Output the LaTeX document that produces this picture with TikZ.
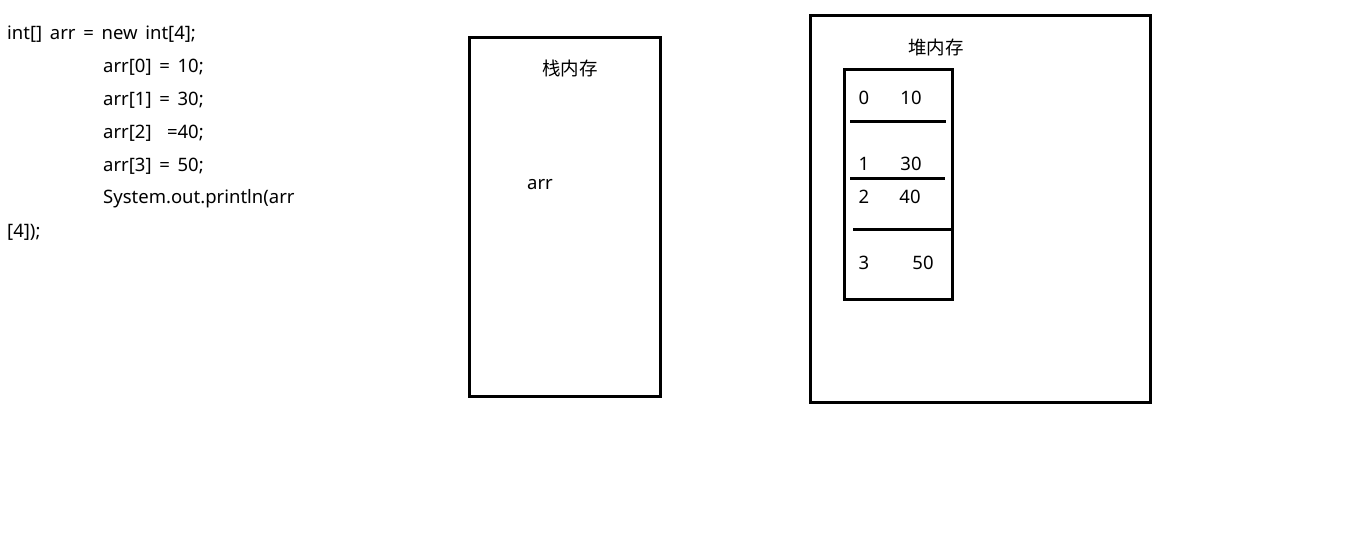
\documentclass[tikz,border=0pt]{standalone}
\usepackage{fontspec}
\setmainfont{Noto Sans}[WordSpace=1.6]
\newfontfamily\cjk{Noto Sans CJK SC}
\begin{document}
\begin{tikzpicture}[x=1pt,y=-1pt,
  txt/.style={anchor=west,inner sep=0pt,font=\fontsize{18.5}{20}\selectfont},
  ctxt/.style={anchor=center,inner sep=0pt,font=\fontsize{18.5}{20}\selectfont},
  cjktxt/.style={anchor=center,inner sep=0pt,font=\cjk\fontsize{18.5}{20}\selectfont},
  box/.style={draw=black,line width=3pt},
  sep/.style={draw=black,line width=3pt}]
\useasboundingbox (0,0) rectangle (1359,541);
% code
\node[txt] (c1) at (7,34) {int[] arr = new int[4];};
\node[txt] (c2) at (103,67) {arr[0] = 10;};
\node[txt] (c3) at (103,100) {arr[1] = 30;};
\node[txt] (c4) at (103,133) {arr[2]\ \ =40;};
\node[txt] (c5) at (103,166) {arr[3] = 50;};
\node[txt] (c6) at (103,199) {System.out.println(arr};
\node[txt] (c7) at (7,232) {[4]);};
% stack
\draw[box] (469,37) rectangle (660,396);
\node[cjktxt] (st) at (570,68) {栈内存};
\node[ctxt] (arr) at (540,185) {arr};
% heap
\draw[box] (810,15) rectangle (1150,402);
\node[cjktxt] (hp) at (936,47) {堆内存};
\draw[box] (844,69) rectangle (952,299);
\coordinate (l1a) at (850,121); \coordinate (l1b) at (946,121);
\coordinate (l2a) at (850,178); \coordinate (l2b) at (945,178);
\coordinate (l3a) at (853,229); \coordinate (l3b) at (951,229);
\draw[sep] (l1a) -- (l1b);
\draw[sep] (l2a) -- (l2b);
\draw[sep] (l3a) -- (l3b);
\node[ctxt] (i0) at (864,98) {0};
\node[ctxt] (v0) at (911,98) {10};
\node[ctxt] (i1) at (864,164) {1};
\node[ctxt] (v1) at (911,164) {30};
\node[ctxt] (i2) at (864,197) {2};
\node[ctxt] (v2) at (910,197) {40};
\node[ctxt] (i3) at (864,263) {3};
\node[ctxt] (v3) at (923,263) {50};
\end{tikzpicture}
\end{document}
